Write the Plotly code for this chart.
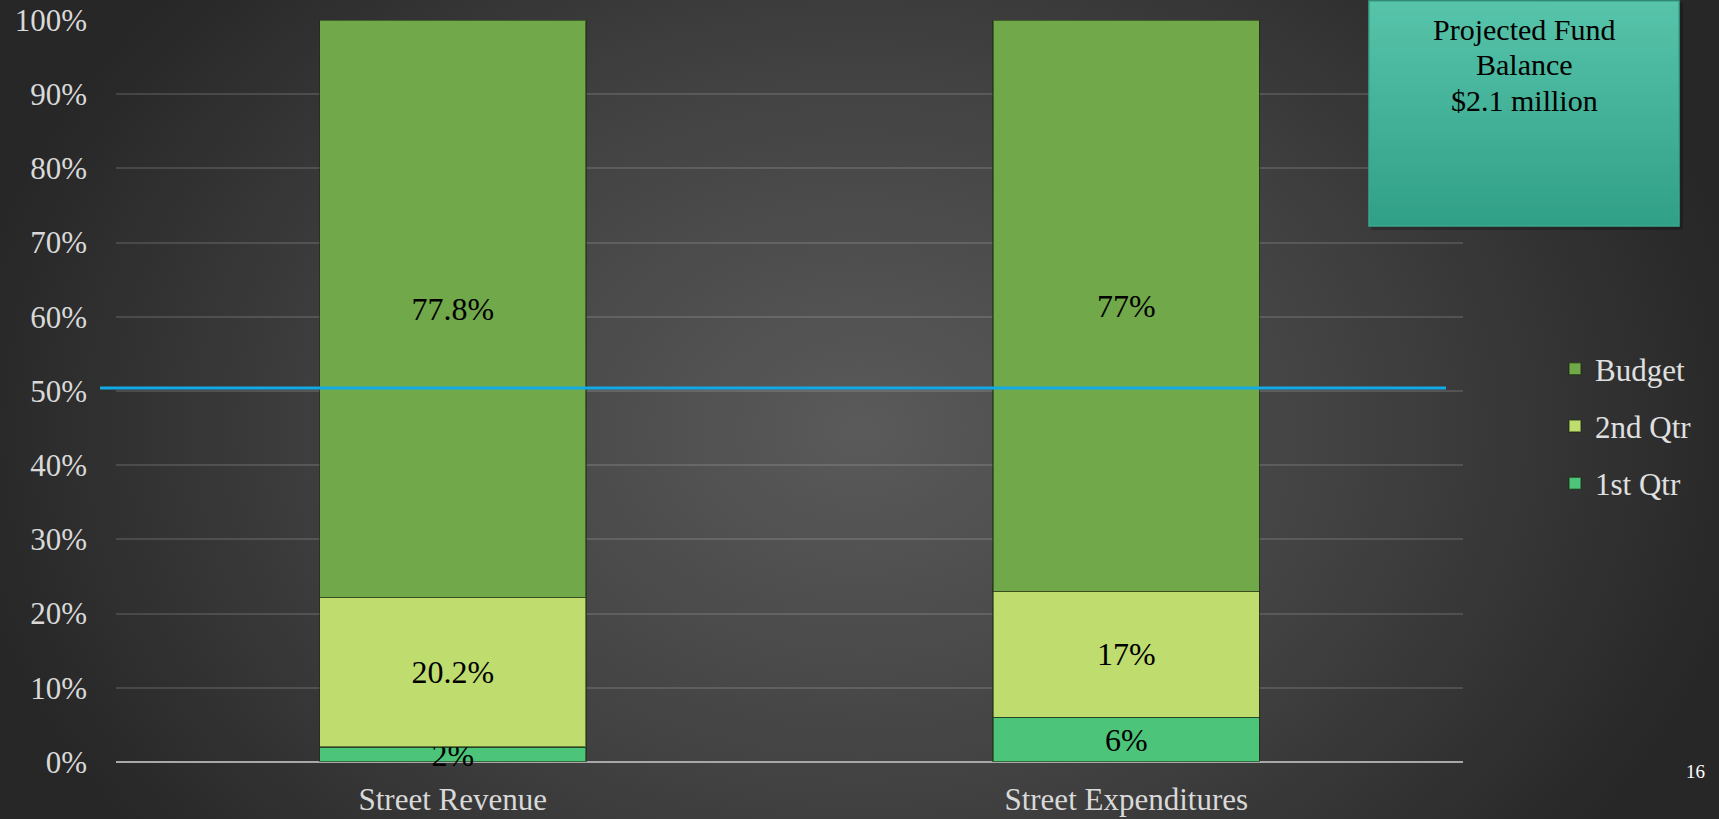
import base64
import plotly.graph_objects as go

# ---------------- data ----------------
categories = ["Street Revenue", "Street Expenditures"]
q1_values = [2, 6]
q2_values = [20.2, 17]
budget_values = [77.8, 77]
y_tick_values = [0, 10, 20, 30, 40, 50, 60, 70, 80, 90, 100]
y_tick_labels = [f"{v}%" for v in y_tick_values]
target_line = 50.4
box_lines = ["Projected Fund", "Balance", "$2.1 million"]
page_number = "16"

# ---------------- layout geometry ----------------
W, H = 1719, 819
L, R, T, B = 116, 256, 20, 57
PW, PH = W - L - R, H - T - B


def px_x(px):
    return (px - L) / PW


def px_y(py):
    return (H - B - py) / PH


FONT = "Liberation Serif, Times New Roman, serif"
FS = 31

fig = go.Figure()

series = [
    ("1st Qtr", q1_values, "#4cc47a", "g1", 3),
    ("2nd Qtr", q2_values, "#bfdc6e", "g2", 2),
    ("Budget", budget_values, "#71a84a", "g3", 1),
]
for name, vals, color, grp, rank in series:
    fig.add_trace(go.Bar(
        name=name,
        x=categories,
        y=vals,
        legendgroup=grp,
        legendrank=rank,
        marker=dict(color=color, line=dict(color="rgba(25,40,15,0.55)", width=1.5)),
        texttemplate="%{y}%",
        textposition="inside",
        insidetextanchor="middle",
        textangle=0,
        cliponaxis=False,
        textfont=dict(family=FONT, size=FS + 1, color="#000000"),
        hoverinfo="skip",
    ))

# background gradient
svg = (
    f'<svg xmlns="http://www.w3.org/2000/svg" width="{W}" height="{H}" viewBox="0 0 {W} {H}">'
    '<defs><radialGradient id="g" gradientUnits="userSpaceOnUse" cx="860" cy="430" r="900" '
    'gradientTransform="translate(860 430) scale(1 0.75) translate(-860 -430)">'
    '<stop offset="0" stop-color="#5a5a5a"/><stop offset="0.55" stop-color="#414141"/>'
    '<stop offset="1" stop-color="#272727"/></radialGradient></defs>'
    f'<rect x="0" y="0" width="{W}" height="{H}" fill="url(#g)"/></svg>'
)
bg_src = "data:image/svg+xml;base64," + base64.b64encode(svg.encode()).decode()

shapes = [
    # target line
    dict(type="line", xref="paper", yref="y", x0=px_x(100), x1=px_x(1446),
         y0=target_line, y1=target_line, line=dict(color="#12a9e4", width=3), layer="above"),
    # box shadow
    dict(type="rect", xref="paper", yref="paper", x0=px_x(1371), x1=px_x(1683),
         y0=px_y(230), y1=px_y(3), fillcolor="rgba(0,0,0,0.22)", line=dict(width=0), layer="above"),
]

# box with a vertical gradient built from thin stripes
box_x0, box_x1, box_top, box_bot = 1369, 1679, 1, 226
top_rgb, bot_rgb = (87, 196, 170), (48, 160, 134)
n_strips = 45
step = (box_bot - box_top) / n_strips
for i in range(n_strips):
    t = i / (n_strips - 1)
    c = tuple(round(a + (b - a) * t) for a, b in zip(top_rgb, bot_rgb))
    y_top = box_top + i * step
    y_bot = box_top + (i + 1) * step + 0.6
    shapes.append(dict(type="rect", xref="paper", yref="paper",
                       x0=px_x(box_x0), x1=px_x(box_x1), y0=px_y(min(y_bot, box_bot)), y1=px_y(y_top),
                       fillcolor=f"rgb{c}", line=dict(width=0), layer="above"))
shapes.append(dict(type="rect", xref="paper", yref="paper",
                   x0=px_x(box_x0), x1=px_x(box_x1), y0=px_y(box_bot), y1=px_y(box_top),
                   fillcolor="rgba(0,0,0,0)", line=dict(color="#3aa88c", width=1.5), layer="above"))

annotations = []
for i, line in enumerate(box_lines):
    annotations.append(dict(text=line, xref="paper", yref="paper", x=px_x(1524), y=px_y(29 + 35.5 * i),
                            xanchor="center", yanchor="middle", showarrow=False,
                            font=dict(family=FONT, size=FS - 1, color="#000000")))
annotations.append(dict(text=page_number, xref="paper", yref="paper", x=px_x(1707), y=px_y(771),
                        xanchor="right", yanchor="middle", showarrow=False,
                        font=dict(family=FONT, size=19, color="#ffffff")))

fig.update_layout(
    width=W, height=H,
    margin=dict(l=L, r=R, t=T, b=B, autoexpand=False),
    barmode="stack",
    bargap=0.605,
    paper_bgcolor="#333333",
    plot_bgcolor="rgba(0,0,0,0)",
    font=dict(family=FONT, size=FS, color="#d9d9d9"),
    uniformtext=dict(minsize=FS + 1, mode="show"),
    images=[dict(source=bg_src, xref="paper", yref="paper", x=px_x(0), y=px_y(0),
                 sizex=W / PW, sizey=H / PH, xanchor="left", yanchor="top",
                 sizing="stretch", layer="below")],
    shapes=shapes,
    annotations=annotations,
    showlegend=True,
    legend=dict(
        x=px_x(1555), y=px_y(426), xanchor="left", yanchor="middle",
        traceorder="grouped", tracegroupgap=14,
        bgcolor="rgba(0,0,0,0)", borderwidth=0,
        font=dict(family=FONT, size=FS, color="#e0e0e0"),
    ),
    xaxis=dict(
        showgrid=False, zeroline=False, showline=False, ticks="",
        tickfont=dict(family=FONT, size=FS, color="#d9d9d9"),
        ticklabelstandoff=16, automargin=False, fixedrange=True,
    ),
    yaxis=dict(
        range=[0, 100], tickvals=y_tick_values, ticktext=y_tick_labels,
        showgrid=True, gridcolor="rgba(255,255,255,0.13)", gridwidth=1.5,
        zeroline=True, zerolinecolor="#a8a8a8", zerolinewidth=2,
        showline=False, ticks="", ticklabelstandoff=28,
        tickfont=dict(family=FONT, size=FS, color="#d9d9d9"),
        automargin=False, fixedrange=True,
    ),
)

fig.write_html(
    "out.html",
    config={"displayModeBar": False},
    post_script="document.body.style.margin='0';document.body.style.overflow='hidden';",
)
